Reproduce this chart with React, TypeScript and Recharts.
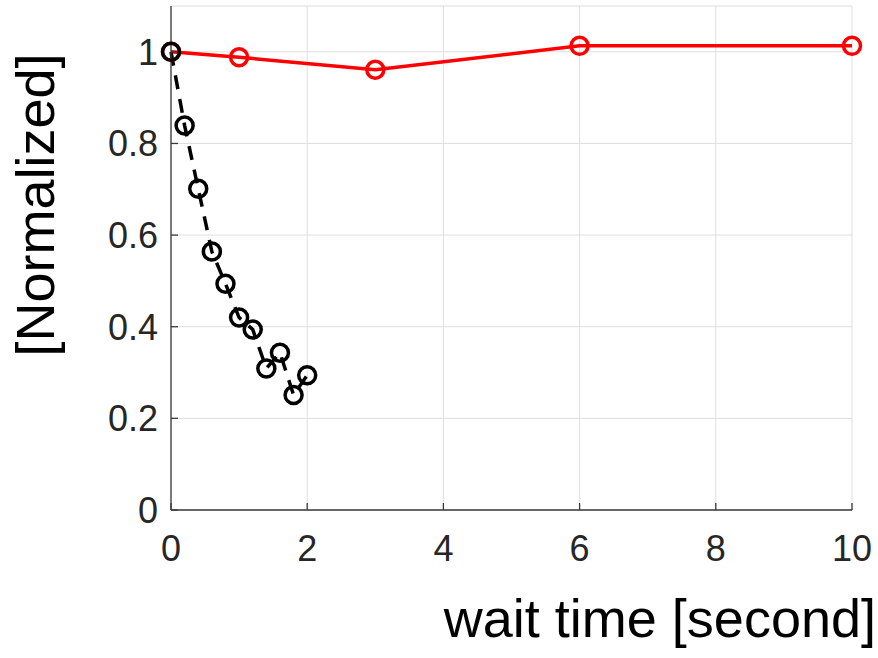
import { LineChart, Line, XAxis, YAxis, CartesianGrid } from "recharts";

// wait time [s] vs normalized response
const fastTime = [0, 0.2, 0.4, 0.6, 0.8, 1.0, 1.2, 1.4, 1.6, 1.8, 2.0];
const fastValue = [1.0, 0.839, 0.701, 0.564, 0.494, 0.42, 0.394, 0.309, 0.343, 0.251, 0.294];

const slowTime = [0, 1, 3, 6, 10];
const slowValue = [1.0, 0.988, 0.961, 1.013, 1.013];

const xTicks = [0, 2, 4, 6, 8, 10];
const yTicks = [0, 0.2, 0.4, 0.6, 0.8, 1];

const fastData = fastTime.map((t, i) => ({ t, v: fastValue[i] }));
const slowData = slowTime.map((t, i) => ({ t, v: slowValue[i] }));

const FONT = '"Liberation Sans", Arial, Helvetica, sans-serif';
const AXIS = "#3a3a3a";
const TICK_TEXT = { fill: "#262626", fontSize: 36, fontFamily: FONT };

const NoTick = () => <g />;

export default function App() {
  return (
    <div style={{ position: "absolute", left: 0, top: 0, width: 878, height: 658, background: "#fff" }}>
      <LineChart
        width={878}
        height={658}
        margin={{ top: 6, right: 26, left: 0, bottom: 0 }}
      >
        <CartesianGrid stroke="#dedede" strokeWidth={1} />
        <XAxis
          type="number"
          dataKey="t"
          domain={[0, 10]}
          ticks={xTicks}
          interval={0}
          height={148}
          tickSize={-7}
          tickMargin={32}
          stroke={AXIS}
          strokeWidth={1.3}
          tick={TICK_TEXT}
        />
        <XAxis
          xAxisId="top"
          orientation="top"
          type="number"
          domain={[0, 10]}
          ticks={xTicks}
          interval={0}
          height={0}
          tickSize={-7}
          stroke={AXIS}
          strokeWidth={1.3}
          tick={NoTick}
        />
        <YAxis
          type="number"
          domain={[0, 1.1]}
          ticks={yTicks}
          interval={0}
          width={171}
          tickSize={-7}
          tickMargin={20}
          stroke={AXIS}
          strokeWidth={1.3}
          tick={TICK_TEXT}
        />
        <YAxis
          yAxisId="right"
          orientation="right"
          type="number"
          domain={[0, 1.1]}
          ticks={yTicks}
          interval={0}
          width={0}
          tickSize={-7}
          stroke={AXIS}
          strokeWidth={1.3}
          tick={NoTick}
        />
        <Line
          data={slowData}
          dataKey="v"
          type="linear"
          stroke="#ff0000"
          strokeWidth={3.5}
          dot={{ r: 8.5, stroke: "#ff0000", strokeWidth: 3.5, fill: "none", clipDot: false }}
          isAnimationActive={false}
        />
        <Line
          data={fastData}
          dataKey="v"
          type="linear"
          stroke="#000000"
          strokeWidth={3.5}
          strokeDasharray="14 10"
          dot={{ r: 8.5, stroke: "#000000", strokeWidth: 3.5, fill: "none", strokeDasharray: "none", clipDot: false }}
          isAnimationActive={false}
        />
      </LineChart>
      <svg
        width={878}
        height={658}
        style={{ position: "absolute", left: 0, top: 0, pointerEvents: "none" }}
      >
        <text
          x={54}
          y={205}
          transform="rotate(-90 54 205)"
          textAnchor="middle"
          fontSize={54}
          fontFamily={FONT}
          fill="#000"
        >
          [Normalized]
        </text>
        <text x={876} y={637} textAnchor="end" fontSize={54} fontFamily={FONT} fill="#000">
          wait time [second]
        </text>
      </svg>
    </div>
  );
}
